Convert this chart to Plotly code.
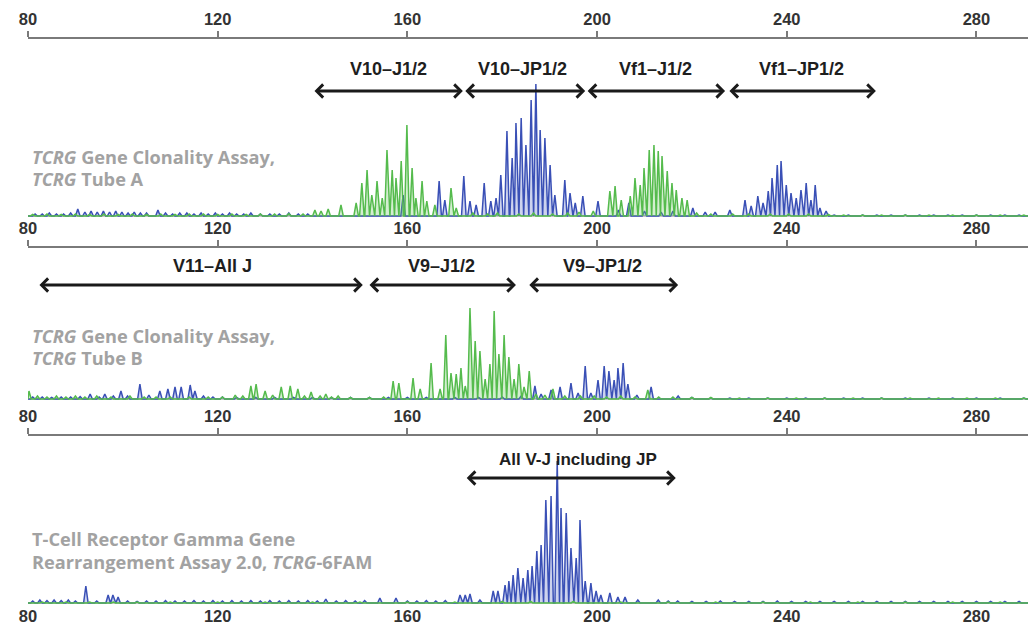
import plotly.graph_objects as go

W, H = 1036, 628

# ---------------- data ----------------
TICKS = [80, 120, 160, 200, 240, 280]
TICK_TEXT = ["80", "120", "160", "200", "240", "280"]
X_RANGE = [80, 294.25]

# Panel A (TCRG Tube A): (size in bp, signal)
A_BLUE = [(90.5, 7), (159.1, 21), (166.7, 35), (167.9, 16), (171.9, 40), (173.2, 15), (174.5, 11),
          (176.2, 33), (177.6, 15), (178.7, 18), (179.7, 41), (181.0, 85), (182.1, 58), (182.9, 93),
          (184.0, 98), (185.0, 71), (186.1, 116), (187.1, 132), (188.0, 86), (189.0, 78), (190.1, 51),
          (191.1, 21), (193.2, 36), (194.3, 23), (195.4, 13), (197.0, 20), (200.2, 15), (204.5, 6),
          (206.7, 13), (210.0, 5), (213.5, 4), (216.0, 5), (220.2, 8), (222.8, 4), (224.9, 4),
          (228.0, 6), (231.2, 16), (232.5, 10), (233.9, 20), (235.0, 13), (236.1, 25), (236.9, 38),
          (238.0, 51), (238.8, 55), (239.9, 31), (240.9, 23), (242.0, 18), (243.0, 26), (244.1, 33),
          (245.1, 16), (246.0, 31), (247.0, 8), (248.3, 5)]
A_BLUE_NOISE = [(81.5, 2), (83, 2), (84.5, 3), (86, 2), (87.5, 2), (89, 3), (92, 4), (93.3, 5), (94.6, 4),
                (95.9, 5), (97.2, 4), (98.5, 5), (99.8, 4), (101.1, 3), (102.4, 4), (103.7, 3), (105, 3),
                (107.4, 6), (109, 3), (110.5, 2), (112, 3), (113.5, 3), (115, 2), (116.5, 3), (118, 2),
                (119.5, 3), (121, 2), (122.5, 3), (124, 2), (125.5, 2), (127, 3), (129, 2), (131, 2),
                (133, 2), (135, 3), (137, 2), (139, 2), (250, 1), (253, 1), (256, 1), (259, 1),
                (262, 1), (265, 1), (268, 1), (271, 1), (274, 1), (277, 1), (280, 1), (283, 1),
                (286, 1), (289, 1), (292, 1)]
A_GREEN = [(140.5, 6), (141.8, 5), (143.3, 7), (146.0, 11), (149.2, 13), (150.4, 33), (151.5, 46),
           (152.5, 21), (153.6, 35), (154.7, 18), (155.7, 66), (156.8, 46), (157.6, 38), (158.7, 55),
           (159.9, 91), (161.0, 48), (161.8, 18), (163.1, 35), (164.1, 15), (165.8, 11), (169.2, 28),
           (170.3, 8), (202.7, 25), (203.8, 30), (205.1, 16), (207.0, 20), (208.0, 38), (209.1, 31),
           (209.9, 48), (211.0, 66), (212.0, 71), (212.9, 65), (213.7, 60), (214.8, 45), (215.8, 33),
           (216.7, 26), (217.9, 18), (219.0, 16)]
A_GREEN_NOISE = [(81, 1.5), (84, 2), (87, 1.5), (90, 2), (93, 1.5), (96, 2), (99, 1.5), (102, 2),
                 (105, 1.5), (108, 2), (111, 1.5), (114, 2), (117, 2), (120, 1.5), (123, 2), (126, 1.5),
                 (129, 2), (132, 2), (135, 2.5), (138, 2), (173.8, 3), (176.9, 2), (179.0, 3), (183.5, 2),
                 (186.6, 3), (190.6, 2), (193.8, 3), (196.2, 4), (199.2, 5), (221, 3), (224, 2), (228.6, 2),
                 (232, 2), (236.5, 2), (240.4, 2), (244.6, 2), (248.8, 1.5), (252, 1), (256, 1),
                 (260, 1), (265, 1), (270, 1), (275, 1), (280, 1), (285, 1), (290, 1)]

# Panel B (TCRG Tube B)
B_BLUE = [(93.1, 5), (96.2, 5), (99.6, 8), (103.6, 15), (107.8, 8), (109.5, 10), (111.0, 12), (112.3, 12),
          (114.2, 14), (115.2, 8), (186.9, 13), (188.2, 5), (190.3, 9), (192.2, 12), (194.5, 16),
          (196.0, 6), (197.5, 33), (198.7, 6), (200.2, 19), (201.5, 33), (202.5, 28), (203.6, 19),
          (204.4, 31), (205.5, 36), (206.5, 15), (208.4, 4), (211.4, 12), (217.1, 3)]
B_BLUE_NOISE = [(81, 2), (83, 2), (85, 1.5), (87, 2), (89, 2), (91, 2.5), (95, 2), (98, 3), (101, 3),
                (105.5, 4), (117, 3), (119, 2), (121, 2), (124, 1.5), (128, 1.5), (132, 1.5), (136, 1.5),
                (140, 1.5), (144, 1.5), (148, 1.5), (152, 1.5), (156, 1.5), (160, 1.5), (164, 1.5),
                (170, 1.5), (175, 1.5), (180, 2), (184, 3), (220, 1.5), (224, 1), (228, 1), (232, 1),
                (236, 1), (240, 1), (244, 1), (248, 1), (252, 1), (256, 1), (260, 1),
                (265, 1), (270, 1), (275, 1), (280, 1), (285, 1), (290, 1)]
B_GREEN = [(80.2, 8), (123.7, 4), (127.0, 13), (128.1, 15), (130.0, 8), (133.4, 12), (135.3, 13),
           (136.9, 10), (139.7, 7), (141.6, 3), (142.8, 5), (145.4, 3), (157.0, 18), (158.2, 16),
           (161.2, 21), (162.7, 10), (165.0, 36), (166.9, 10), (168.1, 64), (169.2, 26), (170.3, 25),
           (171.3, 31), (172.2, 13), (173.2, 91), (174.3, 58), (175.3, 48), (176.4, 20), (177.4, 35),
           (178.3, 88), (179.3, 45), (180.4, 64), (181.4, 42), (182.5, 20), (183.5, 35), (184.6, 12),
           (185.7, 28), (187.1, 5), (190.7, 10), (210.7, 9)]
B_GREEN_NOISE = [(82, 3), (84, 2), (86, 3), (88, 2), (90, 3), (92, 2), (94.5, 3), (97.5, 2), (101.5, 3),
                 (104.5, 2), (107, 2), (110, 2), (114, 2), (118, 2), (121, 2), (125.3, 3), (131.6, 4),
                 (138.3, 3), (144, 2), (148, 1.5), (152, 1.5), (155, 2), (189, 4), (193.2, 3), (196.5, 3),
                 (199.4, 3), (202, 2), (205, 3), (208, 2), (213, 2), (216, 2), (220, 1.5), (224, 1.5),
                 (230, 1), (236, 1), (242, 1), (248, 1), (254, 1), (260, 1), (266, 1),
                 (272, 1), (278, 1), (284, 1), (290, 1)]

# Panel C (TCRG-6FAM)
C_BLUE = [(92.2, 17), (96.9, 8), (97.9, 8), (99.0, 6), (142.8, 4), (154.2, 5), (157.6, 5), (171.1, 8),
          (172.2, 8), (173.2, 9), (175.3, 3), (178.1, 12), (179.1, 12), (180.6, 18), (181.4, 22),
          (182.3, 28), (183.3, 35), (184.4, 25), (185.4, 33), (186.3, 37), (187.3, 52), (188.2, 58),
          (189.2, 103), (190.3, 107), (191.6, 142), (192.4, 95), (193.5, 90), (194.5, 55), (195.6, 45),
          (196.4, 83), (197.5, 22), (198.7, 20), (199.8, 12), (200.8, 8), (202.7, 10), (204.4, 6),
          (205.9, 6), (208.6, 3), (212.9, 3)]
C_BLUE_NOISE = [(81, 2), (82.5, 3), (84, 2.5), (85.5, 3), (87, 2.5), (88.5, 3), (90, 2), (94.5, 2),
                (101, 2), (103, 1.5), (105, 2), (107, 2), (109, 2.5), (111, 2), (113, 2), (115, 2.5),
                (117, 2), (119, 2.5), (121, 2), (123, 2.5), (125, 2), (127, 2.5), (129, 2), (131, 2.5),
                (133, 2), (135, 2.5), (137, 2), (139, 2.5), (141, 2), (145, 2), (147, 2.5), (149, 2),
                (151, 2.5), (160, 2), (162, 2), (164, 2.5), (166, 2), (168, 2.5), (215, 2), (217, 2),
                (220, 1.5), (223, 1.5), (226, 2), (229, 1.5), (232, 1.5), (235, 1.5), (238, 2), (241, 1.5),
                (244, 1.5), (247, 1.5), (250, 1.5), (253, 1.5), (256, 1.5), (259, 1.5), (262, 1.5),
                (265, 1.5), (268, 1.5), (271, 1.5), (274, 1.5), (277, 1.5), (280, 1.5), (283, 1.5),
                (286, 1.5), (289, 1.5), (292, 1.5)]
C_GREEN = [(83, 1), (88, 1), (93, 1), (98, 1), (103, 1), (110, 1), (120, 1), (130, 1), (140, 1),
           (150, 1), (160, 1), (170, 1), (180, 1.5), (186, 1.5), (195, 1.5), (205, 1), (215, 1),
           (225, 1), (235, 1), (245, 1), (255, 1), (265, 1), (275, 1), (285, 1)]

# Amplicon size ranges (bp): label, start, end, label centre
A_RANGES = [("V10–J1/2", 140.1, 171.7, 156.0), ("V10–JP1/2", 171.9, 197.5, 184.2),
            ("Vf1–J1/2", 197.7, 227.0, 212.4), ("Vf1–JP1/2", 227.6, 258.8, 243.2)]
B_RANGES = [("V11–All J", 82.1, 150.6, 119.0), ("V9–J1/2", 151.7, 182.9, 167.3),
            ("V9–JP1/2", 185.4, 217.1, 201.2)]
C_RANGES = [("All V-J including JP", 172.2, 216.6, 196.0)]

PANEL_TEXT = [["<i>TCRG</i> Gene Clonality Assay,", "<i>TCRG</i> Tube A"],
              ["<i>TCRG</i> Gene Clonality Assay,", "<i>TCRG</i> Tube B"],
              ["T-Cell Receptor Gamma Gene", "Rearrangement Assay 2.0, <i>TCRG</i>-6FAM"]]

# ---------------- layout geometry (pixels) ----------------
AXIS_PX = [31, 240, 428]        # top axis line of each panel
BASE_PX = [208, 391, 595]       # trace baseline of each panel
ARROW_PX = [83, 277, 470]
LABEL_PX = [61, 258, 452]
LABEL_SIZE = [18, 18, 17]
TEXT_PX = [(149, 171), (328, 350), (531, 554)]
PAD = 4

BLUE = "#3a50b6"
GREEN = "#55bb4d"
BLUE_FILL = "rgba(90,110,200,0.30)"
GREEN_FILL = "rgba(110,200,100,0.30)"


def py(px):
    return 1 - px / H


def build(peaks, hw=0.48):
    xs, ys = [X_RANGE[0]], [0]
    last = X_RANGE[0]
    for p, h in sorted(peaks):
        left = max(p - hw, last)
        xs += [left, p, p + hw]
        ys += [0, h, 0]
        last = p + hw
    xs.append(X_RANGE[1])
    ys.append(0)
    return xs, ys


fig = go.Figure()
panels = [(A_BLUE + A_BLUE_NOISE, A_GREEN + A_GREEN_NOISE),
          (B_BLUE + B_BLUE_NOISE, B_GREEN + B_GREEN_NOISE),
          (C_BLUE + C_BLUE_NOISE, C_GREEN)]

for i, (blue, green) in enumerate(panels):
    xa = "x" if i == 0 else f"x{i+1}"
    ya = "y" if i == 0 else f"y{i+1}"
    fig.add_trace(go.Scatter(x=list(X_RANGE), y=[0, 0], mode="lines", xaxis=xa, yaxis=ya,
                             line=dict(color="#c4c4c4", width=2.2), hoverinfo="skip"))
    bx, by = build(blue)
    fig.add_trace(go.Scatter(x=bx, y=by, mode="lines", xaxis=xa, yaxis=ya, fill="tozeroy",
                             fillcolor=BLUE_FILL, line=dict(color=BLUE, width=1.5), hoverinfo="skip"))
    gx, gy = build(green)
    fig.add_trace(go.Scatter(x=gx, y=gy, mode="lines", xaxis=xa, yaxis=ya, fill="tozeroy",
                             fillcolor=GREEN_FILL, line=dict(color=GREEN, width=1.5), hoverinfo="skip"))

# carrier for the bottom size axis
fig.add_trace(go.Scatter(x=[], y=[], xaxis="x4", yaxis="y4", hoverinfo="skip"))

axis_common = dict(range=X_RANGE, domain=[20 / W, 1], side="top", showline=True, linecolor="#7a7a7a",
                   linewidth=1.5, ticks="outside", ticklen=6, tickwidth=1.5, tickcolor="#7a7a7a",
                   tickvals=TICKS, ticktext=TICK_TEXT, showgrid=False, zeroline=False, automargin=False,
                   fixedrange=True,
                   tickfont=dict(family="Liberation Sans", size=16.5, color="#333333", weight="bold"))

layout = dict(width=W, height=H, margin=dict(l=0, r=0, t=0, b=0), plot_bgcolor="white",
              paper_bgcolor="white", showlegend=False)
for i in range(3):
    key = "" if i == 0 else str(i + 1)
    top = AXIS_PX[i]
    bot = BASE_PX[i] + PAD
    layout["yaxis" + key] = dict(domain=[py(bot), py(top)], range=[-PAD, bot - top - PAD], visible=False,
                                 fixedrange=True)
    layout["xaxis" + key] = dict(axis_common, anchor="y" + key)
layout["yaxis4"] = dict(domain=[0, 0.001], range=[0, 1], visible=False, fixedrange=True)
layout["xaxis4"] = dict(axis_common, anchor="y4", showline=False)
fig.update_layout(**layout)

annotations = []
for i, ranges in enumerate([A_RANGES, B_RANGES, C_RANGES]):
    xa = "x" if i == 0 else f"x{i+1}"
    for label, lo, hi, mid in ranges:
        annotations.append(dict(x=hi, y=py(ARROW_PX[i]), ax=lo, ay=0, xref=xa, yref="paper", axref=xa,
                                ayref="pixel", text="", showarrow=True, arrowside="end+start",
                                arrowhead=4, startarrowhead=4, arrowsize=0.85, startarrowsize=0.85,
                                arrowwidth=3, arrowcolor="#1a1a1a", standoff=0, startstandoff=0))
        annotations.append(dict(x=mid, y=py(LABEL_PX[i]), xref=xa, yref="paper", text=label,
                                showarrow=False, xanchor="center", yanchor="middle",
                                font=dict(family="Liberation Sans", size=LABEL_SIZE[i], color="#1e1e1e",
                                          weight="bold")))
for i, lines in enumerate(PANEL_TEXT):
    for j, line in enumerate(lines):
        annotations.append(dict(x=22 / W, y=py(TEXT_PX[i][j]), xref="paper", yref="paper", text=line,
                                showarrow=False, xanchor="left", yanchor="middle",
                                font=dict(family="Open Sans", size=18.2, color="#a2a2a2", weight="bold")))
fig.update_layout(annotations=annotations)

fig.write_html("out.html")
